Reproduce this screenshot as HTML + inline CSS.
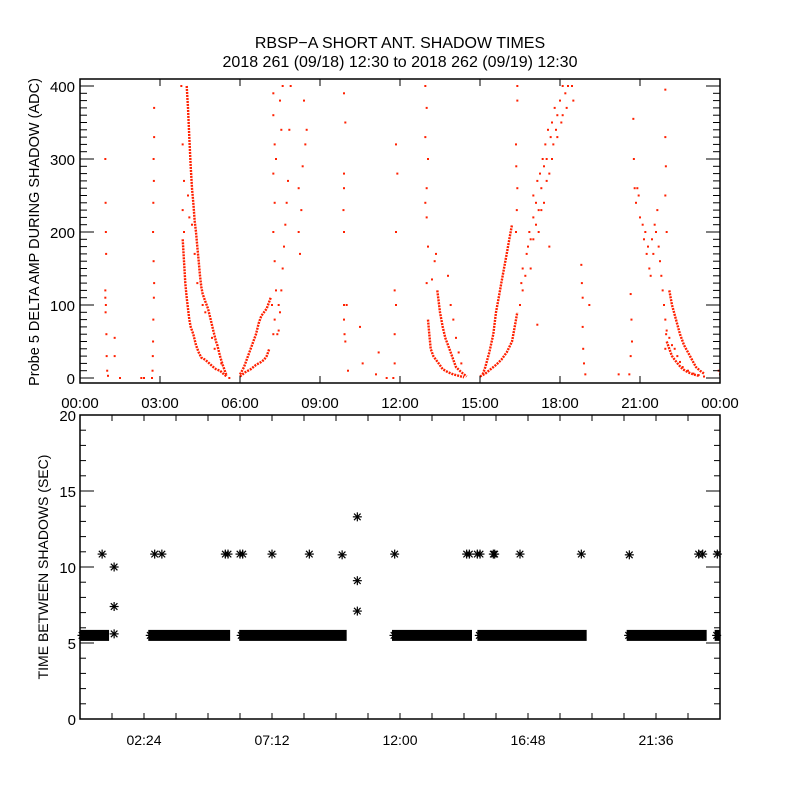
<!DOCTYPE html>
<html><head><meta charset="utf-8"><style>
html,body{margin:0;padding:0;background:#fff;}
svg{display:block;font-family:"Liberation Sans",sans-serif;}
</style></head><body>
<svg id="chart" width="800" height="800" viewBox="0 0 800 800">
<rect width="800" height="800" fill="#fff"/>
<text x="400" y="48" text-anchor="middle" font-size="16">RBSP−A SHORT ANT. SHADOW TIMES</text>
<text x="400" y="67" text-anchor="middle" font-size="16">2018 261 (09/18) 12:30 to 2018 262 (09/19) 12:30</text>
<g id="topPanel"></g>
<g id="botPanel"></g>
</svg>
<script>
// ---- top panel data (time in hours, amplitude ADC) ----
const topXTicks = [0,3,6,9,12,15,18,21,24];
const topXLabels = ["00:00","03:00","06:00","09:00","12:00","15:00","18:00","21:00","00:00"];
const topYTicks = [0,100,200,300,400];
const branchU1Outer = [[4.0,400],[4.05,370],[4.1,330],[4.15,290],[4.2,260],[4.25,240],[4.3,215],[4.35,200],[4.4,180],[4.45,160],[4.5,140],[4.55,125],[4.6,115],[4.7,105],[4.8,95],[4.9,80],[5.0,65],[5.1,50],[5.15,45],[5.25,30],[5.35,18],[5.45,8],[5.5,3]];
const branchU1Inner = [[3.85,190],[3.9,160],[3.95,130],[4.0,110],[4.05,95],[4.1,80],[4.15,70],[4.25,60],[4.35,45],[4.45,35],[4.55,28],[4.7,25],[4.85,20],[5.0,15],[5.1,12],[5.25,10],[5.4,5],[5.5,2]];
const branchU1RightLow = [[6.0,2],[6.2,8],[6.4,12],[6.6,18],[6.8,22],[6.9,25],[7.0,30],[7.1,40]];
const branchU1RightHigh = [[6.0,5],[6.15,15],[6.3,30],[6.45,45],[6.6,60],[6.7,75],[6.8,85],[7.0,95],[7.15,110]];
const branchU2Left = [[13.05,80],[13.1,60],[13.15,40],[13.25,30],[13.35,25],[13.45,20],[13.6,12],[13.8,8],[14.0,5],[14.2,3],[14.4,1]];
const branchU2Left2 = [[13.4,120],[13.5,90],[13.6,70],[13.7,55],[13.8,45],[13.9,35],[14.0,25],[14.1,15],[14.3,8],[14.5,2]];
const branchU2RightLow = [[15.0,2],[15.2,6],[15.4,12],[15.6,18],[15.8,25],[16.0,35],[16.2,50],[16.3,70],[16.4,90]];
const branchU2RightHigh = [[15.1,5],[15.2,15],[15.35,35],[15.5,60],[15.6,90],[15.7,110],[15.8,130],[15.9,150],[16.0,170],[16.1,190],[16.2,210]];
const branchU3Low = [[22.0,50],[22.1,40],[22.2,30],[22.3,25],[22.45,18],[22.6,12],[22.8,8],[23.0,5],[23.2,3]];
const branchU3High = [[22.1,120],[22.2,100],[22.35,80],[22.5,60],[22.65,45],[22.8,35],[22.95,25],[23.1,15],[23.25,10],[23.4,6]];
const scatterPoints = [[0.95,300],[0.96,240],[0.97,200],[0.98,170],[0.95,120],[0.95,110],[0.97,100],[0.96,90],[0.99,60],[1.0,30],[1.02,10],[1.05,3],[1.3,55],[1.3,30],[1.5,0],[2.3,0],[2.4,0],
[2.78,370],[2.78,330],[2.76,300],[2.77,270],[2.75,240],[2.74,200],[2.76,160],[2.78,130],[2.77,110],[2.75,80],[2.74,50],[2.73,30],[2.72,10],[2.7,0],
[3.8,400],[3.85,320],[3.9,270],[3.85,230],[3.9,200],[4.05,250],[4.1,220],[4.2,210],[4.3,170],[4.4,130],[4.6,100],[4.7,90],[4.95,55],[5.05,40],[5.3,20],[5.6,0],
[7.25,60],[7.3,80],[7.35,120],[7.3,160],[7.25,200],[7.3,240],[7.25,280],[7.3,320],[7.25,360],[7.25,390],[7.45,65],[7.5,90],[7.55,120],[7.6,150],[7.65,180],[7.7,210],[7.75,240],[7.8,270],[7.5,380],[7.55,340],[7.6,400],[7.85,340],[7.9,400],[8.2,260],[8.2,200],[8.25,170],[8.3,230],[8.35,290],[8.4,380],[8.45,320],[8.5,340],[7.4,60],[7.45,100],[7.2,100],[7.35,300],
[9.9,390],[9.95,350],[9.9,280],[9.9,260],[9.88,230],[9.9,200],[9.9,100],[9.9,80],[9.92,60],[9.95,50],[10.0,100],[10.05,10],[10.5,70],[10.6,20],[11.2,35],[11.1,5],[11.5,0],
[11.85,320],[11.9,280],[11.85,200],[11.8,120],[11.85,100],[11.8,60],[11.8,20],[11.75,0],
[12.95,400],[13.0,370],[12.95,330],[13.05,300],[13.0,260],[12.95,240],[13.0,220],[13.05,180],[13.0,130],[13.2,135],[13.3,160],[13.35,170],[13.8,140],[13.9,100],[14.0,80],[14.1,55],[14.2,35],[14.3,20],
[16.35,200],[16.4,260],[16.35,320],[16.4,380],[16.4,400],[16.38,230],[16.36,290],
[16.5,100],[16.55,130],[16.6,150],[16.7,140],[16.75,170],[16.8,180],[16.85,200],[16.9,190],[17.0,220],[17.0,250],[17.1,240],[17.15,270],[17.2,230],[17.25,280],[17.3,260],[17.35,300],[17.4,290],[17.45,320],[17.5,300],[17.55,340],[17.6,280],[17.65,330],[17.7,350],[17.75,320],[17.8,370],[17.85,340],[17.9,360],[18.0,380],[18.05,350],[18.1,400],[18.2,390],[18.25,370],[18.3,400],[18.45,400],[18.5,380],[17.2,200],[17.4,240],[17.6,180],[17.0,190],[16.9,150],[16.6,120],[17.1,210],[17.3,230],[17.5,270],[17.7,300],[17.9,330],[18.1,360],
[18.8,155],[18.82,130],[18.85,110],[18.85,70],[18.87,40],[18.9,20],[18.95,5],[19.1,100],[17.15,73],[20.2,5],
[20.65,115],[20.68,80],[20.7,50],[20.65,30],[20.6,5],[20.75,355],[20.77,300],[20.8,260],
[20.85,240],[20.9,260],[20.95,250],[21.0,220],[21.1,210],[21.15,190],[21.2,200],[21.25,170],[21.3,180],[21.35,150],[21.4,140],[21.45,190],[21.5,170],[21.55,210],[21.6,200],[21.65,230],[21.7,180],[21.75,160],[21.8,140],[21.85,120],[21.9,100],[21.95,80],[22.0,65],[22.1,55],[22.2,45],[22.3,40],[22.4,30],[22.5,22],[22.6,15],[22.8,10],[23.0,6],[23.2,4],[23.4,2],
[21.95,395],[21.95,330],[21.97,290],[21.95,250],[22.0,200],[21.9,100],[21.98,60],[21.95,40],[23.95,10],[24.0,5]];

// ---- bottom panel data (time in hours, seconds) ----
const botXTicks = [2.4,7.2,12.0,16.8,21.6];
const botXLabels = ["02:24","07:12","12:00","16:48","21:36"];
const botYTicks = [0,5,10,15,20];
const starTimes = [0.83,1.28,1.28,1.28,2.8,3.07,5.45,5.55,6.0,6.1,7.2,8.6,9.83,10.4,10.4,10.4,11.8,14.5,14.6,14.9,15.0,15.5,15.55,16.5,18.8,20.6,23.2,23.35,23.9];
const starValues = [10.85,10.0,7.4,5.6,10.85,10.85,10.85,10.85,10.85,10.85,10.85,10.85,10.8,13.3,9.1,7.1,10.85,10.85,10.85,10.85,10.85,10.85,10.85,10.85,10.85,10.8,10.85,10.85,10.85];
const bandStarts = [0.0,2.56,5.97,11.7,14.9,20.5,23.8];
const bandEnds = [1.09,5.63,10.0,14.7,19.0,23.5,24.0];
const bandValue = 5.5;

const NS = "http://www.w3.org/2000/svg";
function mk(parent, tag, attrs){const e=document.createElementNS(NS,tag);for(const k in attrs)e.setAttribute(k,attrs[k]);parent.appendChild(e);return e;}

// top axes
const TL=80,TR=720,TT=79,TB=383;
const tx = t => TL + t/24*(TR-TL);
const ty = v => 378 - v*0.73;
const topG = document.getElementById('topPanel');
function drawTop(){
  const clip = mk(topG,'clipPath',{id:'tc'}); mk(clip,'rect',{x:TL,y:TT,width:TR-TL,height:TB-TT});
  const dg = mk(topG,'g',{'clip-path':'url(#tc)'});
  
  
  const branches=[branchU1Outer,branchU1Inner,branchU1RightLow,branchU1RightHigh,branchU2Left,branchU2Left2,branchU2RightLow,branchU2RightHigh,branchU3Low,branchU3High];
  branches.forEach(b=>{
    const p = mk(dg,'polyline',{points:b.map(d=>tx(d[0]).toFixed(1)+','+ty(d[1]).toFixed(1)).join(' '),fill:'none',stroke:'#ff2000','stroke-width':2.4,'stroke-dasharray':'2 1'});
    
    
  });
  scatterPoints.forEach(d=>{
    const r = mk(dg,'rect',{x:tx(d[0])-1,y:ty(d[1])-1,width:2,height:2,fill:'#ff2000'});
    
    
  });
  mk(topG,'rect',{x:TL,y:TT,width:TR-TL,height:TB-TT,fill:'none',stroke:'#000','stroke-width':1.5});
  topXTicks.forEach((t,i)=>{
    mk(topG,'line',{x1:tx(t),x2:tx(t),y1:TB,y2:TB-7,stroke:'#000'});
    mk(topG,'line',{x1:tx(t),x2:tx(t),y1:TT,y2:TT+7,stroke:'#000'});
    const l = mk(topG,'text',{x:tx(t),y:408,'text-anchor':'middle','font-size':15});
    l.textContent = topXLabels[i];
    
    
  });
  for(let v=0;v<=400;v+=10){
    const len = v%100===0?14:7;
    mk(topG,'line',{x1:TL,x2:TL+len,y1:ty(v),y2:ty(v),stroke:'#000'});
    mk(topG,'line',{x1:TR,x2:TR-len,y1:ty(v),y2:ty(v),stroke:'#000'});
  }
  topYTicks.forEach(v=>{
    const l = mk(topG,'text',{x:75,y:ty(v)+6,'text-anchor':'end','font-size':15});
    l.textContent = v;
    
    
  });
  const yt = mk(topG,'text',{x:0,y:0,transform:'translate(39,232) rotate(-90)','text-anchor':'middle','font-size':14.5});
  yt.textContent='Probe 5 DELTA AMP DURING SHADOW (ADC)';
  
  
}
drawTop();

// bottom axes
const BL=80,BR=720,BT=415,BB=719;
const bx = t => BL + t/24*(BR-BL);
const by = v => BB - v*(BB-BT)/20;
const botG = document.getElementById('botPanel');
function star(g,x,y){
  const s=4.5, d=3.3;
  const gg = mk(g,'g',{stroke:'#000','stroke-width':1.2});
  mk(gg,'line',{x1:x-s,x2:x+s,y1:y,y2:y});
  mk(gg,'line',{x1:x,x2:x,y1:y-s,y2:y+s});
  mk(gg,'line',{x1:x-d,x2:x+d,y1:y-d,y2:y+d});
  mk(gg,'line',{x1:x-d,x2:x+d,y1:y+d,y2:y-d});
  return gg;
}
function drawBot(){
  const dg = mk(botG,'g',{});
  
  
  bandStarts.forEach((s,i)=>{
    const x0=bx(s), x1=Math.min(bx(bandEnds[i]),BR);
    const r = mk(dg,'rect',{x:x0,y:by(bandValue)-5.5,width:Math.max(x1-x0,2),height:11,fill:'#000'});
    
    
    star(dg,x0+2,by(bandValue));
  });
  starTimes.forEach((t,i)=>{
    const s = star(dg,bx(t),by(starValues[i]));
    
    
  });
  mk(botG,'rect',{x:BL,y:BT,width:BR-BL,height:BB-BT,fill:'none',stroke:'#000','stroke-width':1.5});
  for(let t=0;t<=24.01;t+=1.2){
    mk(botG,'line',{x1:bx(t),x2:bx(t),y1:BB,y2:BB-6,stroke:'#000'});
    mk(botG,'line',{x1:bx(t),x2:bx(t),y1:BT,y2:BT+6,stroke:'#000'});
  }
  botXTicks.forEach((t,i)=>{
    const l = mk(botG,'text',{x:bx(t),y:745,'text-anchor':'middle','font-size':14});
    l.textContent = botXLabels[i];
    
    
  });
  for(let v=0;v<=20;v++){
    const len = v%5===0?14:6;
    mk(botG,'line',{x1:BL,x2:BL+len,y1:by(v),y2:by(v),stroke:'#000'});
    mk(botG,'line',{x1:BR,x2:BR-len,y1:by(v),y2:by(v),stroke:'#000'});
  }
  botYTicks.forEach(v=>{
    const l = mk(botG,'text',{x:76,y:by(v)+6,'text-anchor':'end','font-size':15});
    l.textContent = v;
    
    
  });
  const yt = mk(botG,'text',{x:0,y:0,transform:'translate(48,567) rotate(-90)','text-anchor':'middle','font-size':14});
  yt.textContent='TIME BETWEEN SHADOWS (SEC)';
  
  
}
drawBot();
</script>
</body></html>
